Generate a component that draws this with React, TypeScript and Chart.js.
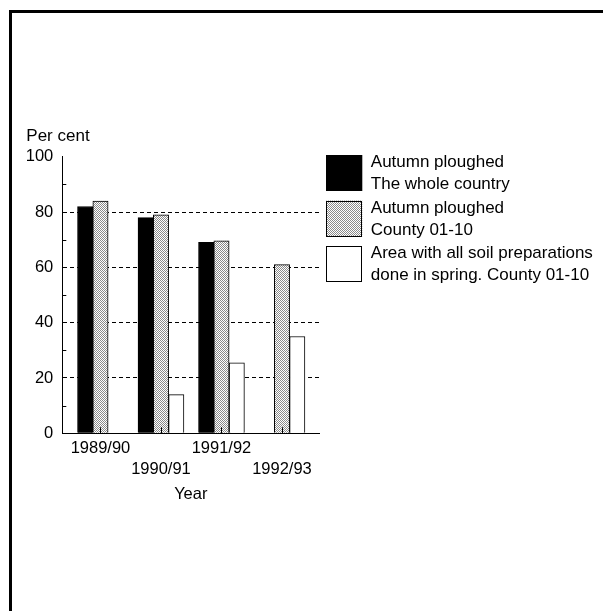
import React, { useEffect, useRef } from 'react';
import { Chart, registerables } from 'chart.js';

Chart.register(...registerables);

// ---- data ----
const categories = ['1989/90', '1990/91', '1991/92', '1992/93'];
const wholeCountryAutumn: (number | null)[] = [82, 78, 69, null];
const countyAutumn: (number | null)[] = [84, 79, 69.6, 61];
const countySpring: (number | null)[] = [null, 14, 25.5, 35];
const legendLines = [
  ['Autumn ploughed', 'The whole country'],
  ['Autumn ploughed', 'County 01-10'],
  ['Area with all soil preparations', 'done in spring. County 01-10'],
];
const yMajorGrid = [20, 40, 60, 80];
const yMinorTicks = [10, 30, 50, 70, 90];
const yTitle = 'Per cent';
const xTitle = 'Year';

const FONT = '"Liberation Sans", Arial, Helvetica, sans-serif';

const decorPlugin = {
  id: 'decor',
  afterDatasetsDraw(chart: any) {
    const { ctx, chartArea, scales } = chart;
    const xs = scales.x;
    const ys = scales.y;
    ctx.save();
    ctx.strokeStyle = '#000';
    ctx.lineWidth = 1;
    // inner minor ticks on y axis
    yMinorTicks.forEach((v) => {
      const py = Math.round(ys.getPixelForValue(v)) + 0.5;
      ctx.beginPath();
      ctx.moveTo(chartArea.left, py);
      ctx.lineTo(chartArea.left + 4, py);
      ctx.stroke();
    });
    // inner ticks on x axis at category centres
    categories.forEach((_, i) => {
      const px = Math.round(xs.getPixelForValue(i)) + 0.5;
      ctx.beginPath();
      ctx.moveTo(px, chartArea.bottom);
      ctx.lineTo(px, chartArea.bottom - 6);
      ctx.stroke();
    });
    // y title (horizontal, above axis)
    ctx.fillStyle = '#000';
    ctx.font = `17px ${FONT}`;
    ctx.textAlign = 'left';
    ctx.textBaseline = 'middle';
    ctx.fillText(yTitle, chartArea.left - 36, chartArea.top - 20.5);
    // legend
    const bx = chartArea.right + 7;
    let by = chartArea.top - 1.7;
    chart.data.datasets.forEach((ds: any, i: number) => {
      ctx.fillStyle = ds.backgroundColor;
      ctx.fillRect(bx, by, 36, 36);
      ctx.strokeStyle = '#000';
      ctx.strokeRect(Math.round(bx) + 0.5, Math.round(by) + 0.5, 35, 35);
      ctx.fillStyle = '#000';
      legendLines[i].forEach((t, j) => {
        ctx.fillText(t, bx + 44.5, by + 7.5 + j * 22);
      });
      by += 45.5;
    });
    ctx.restore();
  },
};

export default function App() {
  const canvasRef = useRef<HTMLCanvasElement | null>(null);

  useEffect(() => {
    const canvas = canvasRef.current;
    if (!canvas) return;
    const c2d = canvas.getContext('2d')!;
    const tile = document.createElement('canvas');
    tile.width = 2;
    tile.height = 2;
    const tg = tile.getContext('2d')!;
    tg.fillStyle = '#ffffff';
    tg.fillRect(0, 0, 2, 2);
    tg.fillStyle = '#8a8a8a';
    tg.fillRect(0, 0, 1, 1);
    tg.fillRect(1, 1, 1, 1);
    const stipple = c2d.createPattern(tile, 'repeat');

    const toPoints = (arr: (number | null)[]) => arr.map((v, i) => ({ x: i, y: v }));

    const chart = new Chart(canvas, {
      type: 'bar',
      data: {
        datasets: [
          {
            label: legendLines[0].join(' '),
            data: toPoints(wholeCountryAutumn) as any,
            backgroundColor: '#000000',
            borderColor: '#000000',
            borderWidth: 1,
          },
          {
            label: legendLines[1].join(' '),
            data: toPoints(countyAutumn) as any,
            backgroundColor: stipple as any,
            borderColor: '#000000',
            borderWidth: 1,
          },
          {
            label: legendLines[2].join(' '),
            data: toPoints(countySpring) as any,
            backgroundColor: '#ffffff',
            borderColor: '#000000',
            borderWidth: 1,
          },
        ],
      },
      plugins: [decorPlugin],
      options: {
        animation: false,
        responsive: false,
        devicePixelRatio: 1,
        barThickness: 15.3,
        layout: { padding: { left: 0, top: 156.7, right: 283.7, bottom: 100 } },
        plugins: {
          legend: { display: false },
          tooltip: { enabled: false },
          title: { display: false },
        },
        scales: {
          x: {
            type: 'linear',
            offset: false,
            min: -0.631,
            max: 3.617,
            afterBuildTicks: (scale: any) => {
              scale.ticks = categories.map((_, i) => ({ value: i }));
            },
            afterFit: (scale: any) => {
              scale.height = 77.7;
            },
            grid: { display: false, drawTicks: false, offset: false },
            border: { display: true, color: '#000', width: 1 },
            ticks: {
              color: '#000',
              padding: 4,
              maxRotation: 0,
              autoSkip: false,
              font: { family: FONT, size: 16.5, lineHeight: 1.315 },
              callback: (v: any) => {
                const i = Math.round(Number(v));
                const lbl = categories[i] ?? '';
                return i % 2 === 0 ? [lbl] : ['', lbl];
              },
            },
            title: {
              display: true,
              text: xTitle,
              color: '#000',
              font: { family: FONT, size: 16.5, lineHeight: 1.2 },
              padding: { top: 0, bottom: 7 },
            },
          },
          y: {
            type: 'linear',
            min: 0,
            max: 100,
            ticks: {
              stepSize: 20,
              color: '#000',
              padding: 9,
              font: { family: FONT, size: 16.5 },
            },
            afterFit: (scale: any) => {
              scale.width = 62.3;
            },
            grid: {
              drawTicks: false,
              lineWidth: 1,
              color: (c: any) => (yMajorGrid.includes(c.tick?.value) ? '#000' : 'rgba(0,0,0,0)'),
            },
            border: { display: true, color: '#000', width: 1, dash: [4, 3] },
          },
        },
      } as any,
    });
    return () => chart.destroy();
  }, []);

  return (
    <div style={{ position: 'absolute', left: 0, top: 0, width: 603, height: 611, background: '#fff', overflow: 'hidden' }}>
      <canvas ref={canvasRef} width={603} height={611} style={{ display: 'block', width: 603, height: 611 }} />
      <div
        style={{
          position: 'absolute',
          left: 9,
          top: 10,
          right: 0,
          bottom: 0,
          borderLeft: '3px solid #000',
          borderTop: '3px solid #000',
          pointerEvents: 'none',
        }}
      />
    </div>
  );
}
